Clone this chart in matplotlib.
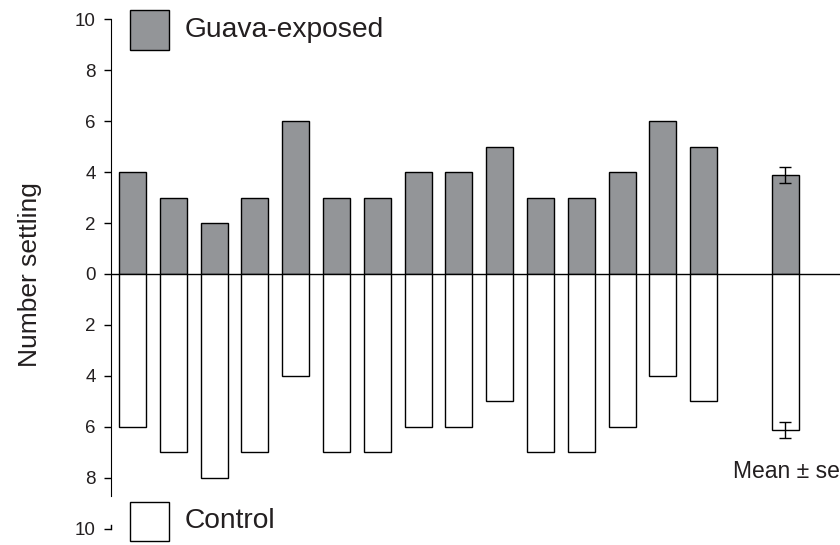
import matplotlib
matplotlib.use("Agg")
import matplotlib.pyplot as plt
from matplotlib.patches import Rectangle
import matplotlib.transforms as mtransforms

plt.rcParams['font.family'] = ['Liberation Sans', 'DejaVu Sans']

positions = list(range(1, 16))
guava = [4, 3, 2, 3, 6, 3, 3, 4, 4, 5, 3, 3, 4, 6, 5]
control = [6, 7, 8, 7, 4, 7, 7, 6, 6, 5, 7, 7, 6, 4, 5]
mean_pos = 17
guava_mean, guava_se = 3.87, 0.31
control_mean, control_se = 6.13, 0.31
yticks = [-10, -8, -6, -4, -2, 0, 2, 4, 6, 8, 10]

gray = '#939598'
txt = '#231f20'

fig = plt.figure(figsize=(8.4, 5.45), dpi=100)
ax = fig.add_axes([0.132, 0.0294, 0.868, 0.9357])

w = 0.66
ax.bar(positions, guava, width=w, color=gray, edgecolor='black', linewidth=1.0, zorder=2)
ax.bar(positions, [-v for v in control], width=w, color='white', edgecolor='black', linewidth=1.0, zorder=2)
ax.bar([mean_pos], [guava_mean], width=w, color=gray, edgecolor='black', linewidth=1.0, zorder=2)
ax.bar([mean_pos], [-control_mean], width=w, color='white', edgecolor='black', linewidth=1.0, zorder=2)
ax.errorbar([mean_pos], [guava_mean], yerr=[guava_se], fmt='none', ecolor='black',
            elinewidth=1.0, capsize=4.5, capthick=1.0, zorder=3)
ax.errorbar([mean_pos], [-control_mean], yerr=[control_se], fmt='none', ecolor='black',
            elinewidth=1.0, capsize=4.5, capthick=1.0, zorder=3)

ax.axhline(0, color='black', linewidth=1.0, zorder=1)

ax.set_xlim(0.47, 18.34)
ax.set_ylim(-10, 10)
ax.set_yticks(yticks)
ax.set_yticklabels([str(abs(t)) for t in yticks], fontsize=13.5, color=txt)
ax.tick_params(axis='y', direction='out', length=5, width=1, pad=6)
ax.set_xticks([])
for s in ['top', 'right', 'bottom']:
    ax.spines[s].set_visible(False)
ax.spines['left'].set_bounds(-8.7, 10)
ax.patch.set_alpha(0)
trans = mtransforms.blended_transform_factory(ax.transAxes, ax.transData)
ax.plot([0, 0], [-10, -9.85], color='black', linewidth=1.0, transform=trans, clip_on=False)

fig.text(30 / 840, 1 - 275 / 545, 'Number settling', rotation=90, ha='center', va='center',
         fontsize=19, color=txt)

# legend entries
fig.patches.append(Rectangle((130 / 840, 1 - 50 / 545), 39 / 840, 40 / 545, transform=fig.transFigure,
                             facecolor=gray, edgecolor='black', linewidth=1.0))
fig.text(185 / 840, 1 - 30 / 545, 'Guava-exposed', ha='left', va='center', fontsize=20.3, color=txt)
fig.patches.append(Rectangle((130 / 840, 1 - 541 / 545), 39 / 840, 39 / 545, transform=fig.transFigure,
                             facecolor='white', edgecolor='black', linewidth=1.0))
fig.text(185 / 840, 1 - 521 / 545, 'Control', ha='left', va='center', fontsize=20.3, color=txt)

fig.text(733 / 840, 1 - 478 / 545, 'Mean ± se', ha='left', va='baseline', fontsize=16.5, color=txt)

fig.savefig('out.png', dpi=100)
